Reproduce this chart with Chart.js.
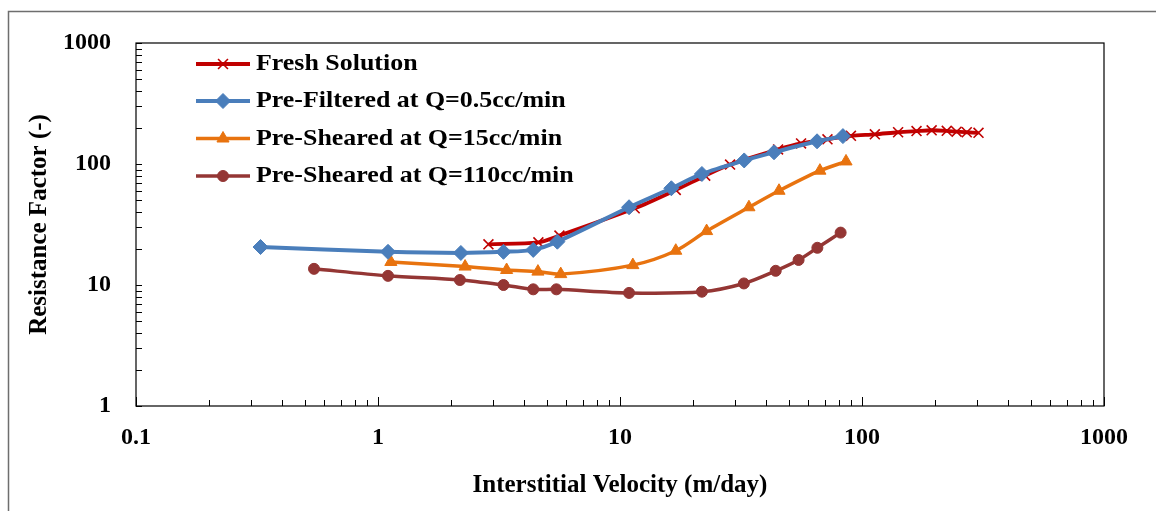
<!DOCTYPE html>
<html>
<head>
<meta charset="utf-8">
<script src="https://cdn.jsdelivr.net/npm/chart.js@4/dist/chart.umd.min.js"></script>
<style>
  html, body { margin: 0; padding: 0; background: #fff; }
  #wrap { width: 1156px; height: 511px; position: relative; }
</style>
</head>
<body>
<div id="wrap"><canvas id="rfChart"></canvas></div>
<script>
// Data (velocity in m/day, resistance factor)
const freshVel = [2.86, 4.6, 5.62, 11.5, 17, 22.5, 28.5, 45, 56, 72, 90, 113, 141, 168, 194, 224, 246, 271, 303];
const freshRF  = [21.7, 22.5, 25.6, 43, 61, 80, 99, 132, 148, 160, 171, 176, 183, 187, 190, 188, 185, 183, 181];

const filtVel = [0.327, 1.10, 2.20, 3.30, 4.38, 5.51, 10.9, 16.3, 21.8, 32.6, 43.3, 65.2, 83.4];
const filtRF  = [20.6, 18.8, 18.4, 18.8, 19.5, 22.8, 43.9, 63.0, 82.7, 107, 125, 154, 170];

const shear15Vel = [1.13, 2.29, 3.40, 4.58, 5.69, 11.3, 17.0, 22.8, 34.1, 45.4, 67.0, 85.9];
const shear15RF  = [15.5, 14.2, 13.3, 12.9, 12.3, 14.6, 19.2, 27.9, 43.9, 60.1, 88.1, 105];

const shear110Vel = [0.544, 1.10, 2.18, 3.30, 4.38, 5.46, 10.9, 21.8, 32.5, 44.0, 54.7, 65.4, 81.6];
const shear110RF  = [13.6, 11.9, 11.0, 10.0, 9.21, 9.21, 8.6, 8.8, 10.3, 13.1, 16.1, 20.3, 27.1];

const seriesNames = ['Fresh Solution', 'Pre-Filtered at Q=0.5cc/min', 'Pre-Sheared at Q=15cc/min', 'Pre-Sheared at Q=110cc/min'];
const xTicks = [0.1, 1, 10, 100, 1000];
const yTicks = [1, 10, 100, 1000];
const xTitle = 'Interstitial Velocity (m/day)';
const yTitle = 'Resistance Factor (-)';

const serif = '"Liberation Serif", "Times New Roman", serif';

function toPoints(xs, ys) {
    return xs.map((x, i) => ({ x: x, y: ys[i] }));
}

function makeSet(label, xs, ys, color, style, radius, width, order) {
    return {
        label: label,
        data: toPoints(xs, ys),
        borderColor: color,
        backgroundColor: color,
        pointBackgroundColor: color,
        pointBorderColor: color,
        pointStyle: style,
        pointRadius: radius,
        pointBorderWidth: style === 'crossRot' ? 1.6 : 1,
        borderWidth: width,
        tension: 0.3,
        fill: false,
        order: order
    };
}

const datasets = [
    makeSet(seriesNames[0], freshVel, freshRF, '#C00000', 'crossRot', 7, 3.8, 4),
    makeSet(seriesNames[1], filtVel, filtRF, '#4A7EBB', 'rectRot', 7.5, 4, 1),
    makeSet(seriesNames[2], shear15Vel, shear15RF, '#E8730F', 'triangle', 7, 3.5, 2),
    makeSet(seriesNames[3], shear110Vel, shear110RF, '#943634', 'circle', 5.5, 3.5, 3)
];

// frame, plot box, inside ticks and legend
const decorations = {
    id: 'decorations',
    beforeDraw(chart) {
        const c = chart.ctx;
        c.save();
        c.fillStyle = '#fff';
        c.fillRect(0, 0, chart.width, chart.height);
        c.strokeStyle = '#6e6e6e';
        c.lineWidth = 1.5;
        c.strokeRect(8.5, 11.5, 1400, 700);
        c.restore();
    },
    afterDatasetsDraw(chart) {
        const c = chart.ctx;
        const a = chart.chartArea;
        const xs = chart.scales.x, ys = chart.scales.y;
        c.save();
        c.strokeStyle = '#000';
        c.lineWidth = 1.2;
        c.strokeRect(a.left, a.top, a.right - a.left, a.bottom - a.top);

        c.lineWidth = 1;
        c.beginPath();
        for (let d = 0; d < 3; d++) {
            for (let m = 1; m <= 10; m++) {
                const v = Math.pow(10, d) * m;
                const py = Math.round(ys.getPixelForValue(v)) + 0.5;
                c.moveTo(a.left, py);
                c.lineTo(a.left + 6, py);
            }
        }
        for (let d = -1; d < 3; d++) {
            for (let m = 1; m <= 10; m++) {
                const v = Math.pow(10, d) * m;
                const px = Math.round(xs.getPixelForValue(v)) + 0.5;
                const len = (m === 1 || m === 10) ? 9 : 6;
                c.moveTo(px, a.bottom);
                c.lineTo(px, a.bottom - len);
            }
        }
        c.stroke();

        // legend
        const rows = [64, 101, 138.5, 176];
        const drawPoint = Chart.helpers && Chart.helpers.drawPoint;
        chart.data.datasets.forEach((ds, i) => {
            const y = rows[i];
            c.strokeStyle = ds.borderColor;
            c.lineWidth = ds.borderWidth;
            c.beginPath();
            c.moveTo(196, y);
            c.lineTo(250, y);
            c.stroke();
            if (drawPoint) {
                c.fillStyle = ds.pointBackgroundColor;
                c.strokeStyle = ds.pointBorderColor;
                c.lineWidth = ds.pointBorderWidth;
                drawPoint(c, { pointStyle: ds.pointStyle, radius: ds.pointRadius, rotation: 0, borderWidth: ds.pointBorderWidth }, 223, y);
            }
            c.save();
            c.fillStyle = '#000';
            c.font = 'bold 24px ' + serif;
            c.textAlign = 'left';
            c.textBaseline = 'middle';
            c.translate(256, y);
            c.scale(1.08, 1);
            c.fillText(ds.label, 0, 0);
            c.restore();
        });
        c.restore();
    }
};

const ctx = document.getElementById('rfChart').getContext('2d');
const rfChart = new Chart(ctx, {
    type: 'line',
    data: { datasets: datasets },
    options: {
        responsive: true,
        maintainAspectRatio: false,
        animation: false,
        layout: { padding: { top: 43, right: 52, left: 0, bottom: 0 } },
        plugins: {
            legend: { display: false },
            tooltip: { enabled: false }
        },
        scales: {
            x: {
                type: 'logarithmic',
                min: 0.1,
                max: 1000,
                afterBuildTicks: (s) => { s.ticks = xTicks.map(v => ({ value: v })); },
                afterFit: (s) => { s.height = 105; },
                grid: { display: false, drawTicks: false },
                border: { display: false },
                ticks: {
                    padding: 17,
                    maxRotation: 0,
                    autoSkip: false,
                    color: '#000',
                    font: { family: serif, size: 24, weight: 'bold' },
                    callback: (v) => String(v)
                },
                title: {
                    display: true,
                    text: xTitle,
                    color: '#000',
                    font: { family: serif, size: 25, weight: 'bold' },
                    padding: { top: 0, bottom: 10 }
                }
            },
            y: {
                type: 'logarithmic',
                min: 1,
                max: 1000,
                afterBuildTicks: (s) => { s.ticks = yTicks.map(v => ({ value: v })); },
                afterFit: (s) => { s.width = 136; },
                grid: { display: false, drawTicks: false },
                border: { display: false },
                ticks: {
                    padding: 25,
                    autoSkip: false,
                    color: '#000',
                    font: { family: serif, size: 24, weight: 'bold' },
                    callback: (v) => String(v)
                },
                title: {
                    display: true,
                    text: yTitle,
                    color: '#000',
                    font: { family: serif, size: 25, weight: 'bold' },
                    padding: { top: 25, bottom: 0 }
                }
            }
        }
    },
    plugins: [decorations]
});
</script>
</body>
</html>
